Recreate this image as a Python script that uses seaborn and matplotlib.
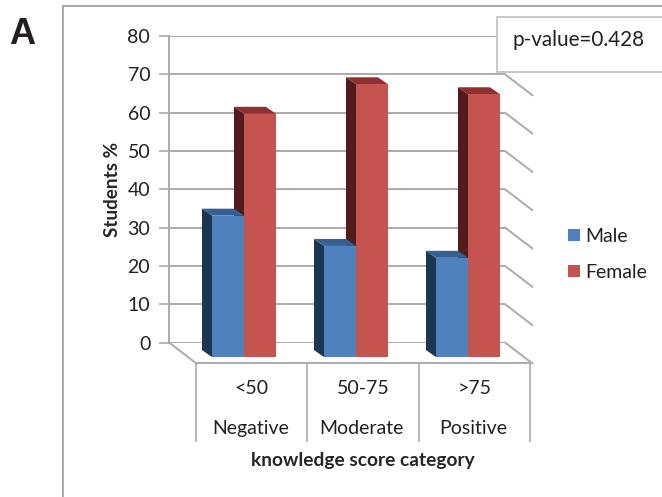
import matplotlib
matplotlib.use("Agg")
import matplotlib.pyplot as plt
import pandas as pd
import seaborn as sns
from matplotlib.lines import Line2D
from matplotlib.patches import Polygon, Rectangle

# data
score_bands = ["<50", "50-75", ">75"]
categories = ["Negative", "Moderate", "Positive"]
male_pct = [36.9, 29.0, 25.9]
female_pct = [63.5, 71.2, 68.6]
y_ticks = [0, 10, 20, 30, 40, 50, 60, 70, 80]

W, H = 662, 497
INK = "#231F20"
GRID = "#ABABAB"
COLORS = {"Male": "#4F81BD", "Female": "#C5534F"}
TOPS = {"Male": "#376092", "Female": "#8E302F"}
SIDES = {"Male": "#1B3552", "Female": "#511C1B"}
FS = 14

sns.set_theme(style="white")
plt.rcParams["font.family"] = ["Lato", "DejaVu Sans"]
plt.rcParams["text.color"] = INK


def px_axes(fig, left, top, right, bottom):
    """axes placed by picture pixels (y counted from the top)"""
    return fig.add_axes([left / W, 1 - bottom / H, (right - left) / W, (bottom - top) / H])


def fx(x):
    return x / W


def fy(y):
    return 1 - y / H


def main():
    df = pd.DataFrame({
        "band": score_bands * 2,
        "sex": ["Male"] * 3 + ["Female"] * 3,
        "pct": male_pct + female_pct,
    })

    fig = plt.figure(figsize=(W / 100, H / 100), dpi=100)

    # ------------------------------------------------------ back wall
    wall = px_axes(fig, 169, 36, 505, 342.5)
    wall.set_xlim(0, 1)
    wall.set_ylim(0, 80)
    wall.set_yticks(y_ticks)
    wall.set_xticks([])
    wall.patch.set_alpha(0)
    for side in ["top", "right", "bottom"]:
        wall.spines[side].set_visible(False)
    wall.spines["left"].set_color(GRID)
    wall.spines["left"].set_linewidth(1.4)
    wall.grid(axis="y", color=GRID, lw=1.4)
    wall.tick_params(axis="y", length=7, width=1.2, color=GRID, left=True,
                     pad=6.5, labelsize=FS, labelcolor=INK)
    wall.set_ylabel("Students %", fontsize=13.6, fontweight="bold", labelpad=5)

    # receding lines on the right wall and the floor
    depth_x = 27.5 / 336
    depth_y = 21 / (306.5 / 80)
    for v in y_ticks:
        wall.plot([1, 1 + depth_x], [v, v - depth_y], color=GRID, lw=1.4,
                  clip_on=False)
    wall.plot([0, depth_x], [0, -depth_y], color=GRID, lw=1.4, clip_on=False)

    # ------------------------------------------------ front floor + labels
    floor = px_axes(fig, 196, 363, 530, 442)
    floor.set_xlim(-0.5, 2.5)
    floor.set_ylim(1, 0)
    floor.patch.set_alpha(0)
    for side in ["left", "right", "bottom"]:
        floor.spines[side].set_visible(False)
    floor.spines["top"].set_color(GRID)
    floor.spines["top"].set_linewidth(1.4)
    floor.vlines([-0.5, 0.5, 1.5, 2.5], 0, 1, color=GRID, lw=1.2, clip_on=False)
    floor.set_xticks(range(3), score_bands)
    floor.set_yticks([])
    floor.tick_params(axis="x", length=0, top=False, bottom=False,
                      labeltop=False, labelbottom=False)
    for i, (band, cat) in enumerate(zip(score_bands, categories)):
        floor.text(i, 0.32, band, ha="center", va="center", fontsize=FS)
        floor.text(i - 0.01, 0.835, cat, ha="center", va="center", fontsize=FS)
    floor.set_xlabel("knowledge score category", fontsize=13.8, fontweight="bold",
                     labelpad=7)

    # --------------------------------------------------------------- bars
    ax = px_axes(fig, 188, 36, 524, 357)
    sns.barplot(data=df, x="band", y="pct", hue="sex", order=score_bands,
                hue_order=["Male", "Female"], palette=COLORS, width=0.5714,
                gap=0, saturation=1, linewidth=0, errorbar=None, ax=ax)
    ax.set_xlim(-0.5, 2.5)
    ax.set_ylim(0, 321 / 3.83)
    ax.patch.set_alpha(0)
    ax.axis("off")

    # fake 3D: side and top faces hang off each bar
    dx = 10 / 112
    dy = 7 / 3.83
    for name, cont, z in zip(["Male", "Female"], ax.containers, [2, 1]):
        for bar in cont:
            x, w, v = bar.get_x(), bar.get_width(), bar.get_height()
            ax.add_patch(Polygon([(x, 0), (x - dx, dy), (x - dx, v + dy), (x, v)],
                                 color=SIDES[name], lw=0, zorder=z, clip_on=False))
            ax.add_patch(Polygon([(x, v), (x - dx, v + dy), (x + w - dx, v + dy),
                                  (x + w, v)],
                                 color=TOPS[name], lw=0, zorder=z, clip_on=False))
            bar.set_zorder(3)

    handles, labels = ax.get_legend_handles_labels()
    ax.legend(handles, labels, loc="center left", frameon=False, fontsize=FS,
              bbox_to_anchor=(fx(550), fy(254.5)), bbox_transform=fig.transFigure,
              handlelength=0.62, handleheight=0.62, handletextpad=0.3,
              labelspacing=0.98)

    # ------------------------------------------------ box, frame, panel letter
    fig.add_artist(Rectangle((fx(497), fy(72)), fx(175), fy(17) - fy(72),
                             facecolor="white", edgecolor="#BFBFBF", lw=1.2,
                             zorder=10))
    fig.text(fx(513), fy(40), "p-value=0.428", fontsize=14.9, va="center", zorder=11)
    fig.add_artist(Line2D([fx(63), fx(63)], [fy(6), 0], color="#999999", lw=1.2))
    fig.add_artist(Line2D([fx(63), 1], [fy(6), fy(6)], color="#999999", lw=1.2))
    fig.text(fx(9), fy(35), "A", fontsize=26, fontweight="bold", va="center",
             family=["Liberation Sans"])

    fig.savefig("out.png", dpi=100)


if __name__ == "__main__":
    main()
